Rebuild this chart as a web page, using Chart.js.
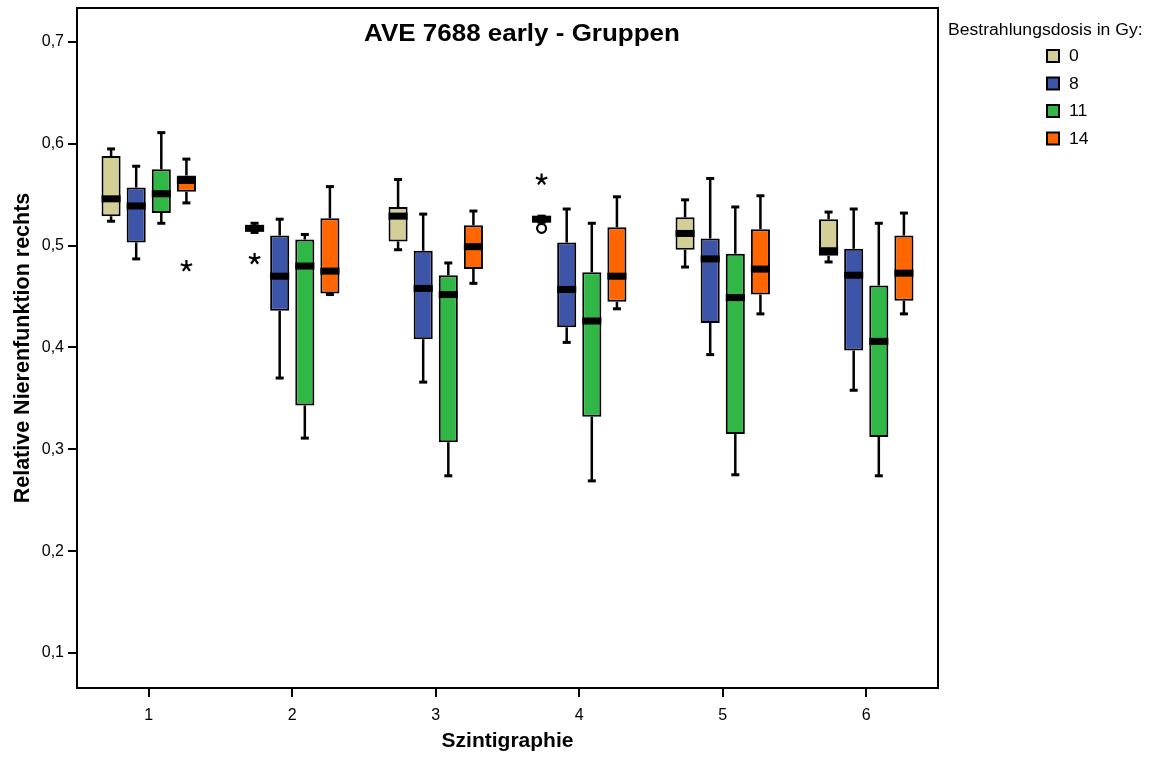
<!DOCTYPE html>
<html>
<head>
<meta charset="utf-8">
<script src="https://cdn.jsdelivr.net/npm/chart.js@4.4.1/dist/chart.umd.min.js"></script>
<style>
  html, body { margin: 0; padding: 0; background: #fff; }
  #wrap { width: 1149px; height: 758px; }
</style>
</head>
<body>
<div id="wrap"><canvas id="c" width="1149" height="758"></canvas></div>
<script>
// Scan number on the x axis, radiation dose groups as the series
const categories = ['1', '2', '3', '4', '5', '6'];
const doses = ['0', '8', '11', '14'];
const doseColors = ['#d3cf97', '#3c55a8', '#31b746', '#ff6600'];

// Box plot statistics, one row per dose group (0, 8, 11, 14 Gy), one column per scan
const whiskerLow = [
  [0.524, 0.513, 0.496, 0.523, 0.479, 0.484],
  [0.487, 0.370, 0.366, 0.405, 0.393, 0.358],
  [0.522, 0.311, 0.274, 0.269, 0.275, 0.274],
  [0.542, 0.452, 0.463, 0.438, 0.433, 0.433]
];
const quartile1 = [
  [0.529, 0.515, 0.504, 0.524, 0.496, 0.490],
  [0.503, 0.436, 0.408, 0.420, 0.424, 0.397],
  [0.532, 0.343, 0.307, 0.332, 0.315, 0.312],
  [0.553, 0.453, 0.477, 0.445, 0.452, 0.446]
];
const medians = [
  [0.546, 0.517, 0.529, 0.526, 0.512, 0.495],
  [0.539, 0.470, 0.458, 0.457, 0.487, 0.471],
  [0.551, 0.480, 0.452, 0.426, 0.449, 0.406],
  [0.564, 0.475, 0.499, 0.470, 0.477, 0.473]
];
const quartile3 = [
  [0.588, 0.520, 0.538, 0.528, 0.528, 0.526],
  [0.557, 0.510, 0.495, 0.503, 0.507, 0.497],
  [0.575, 0.506, 0.471, 0.474, 0.492, 0.461],
  [0.569, 0.527, 0.520, 0.518, 0.516, 0.510]
];
const whiskerHigh = [
  [0.595, 0.522, 0.565, 0.529, 0.545, 0.533],
  [0.578, 0.526, 0.531, 0.536, 0.566, 0.536],
  [0.611, 0.511, 0.483, 0.522, 0.538, 0.522],
  [0.585, 0.558, 0.534, 0.548, 0.549, 0.532]
];
// [scan index, dose index, value]
const extremeValues = [[0, 3, 0.480], [1, 0, 0.487], [3, 0, 0.565]];
const outlierValues = [[3, 0, 0.517]];

const yTickValues = [0.1, 0.2, 0.3, 0.4, 0.5, 0.6, 0.7];
const yTickLabels = ['0,1', '0,2', '0,3', '0,4', '0,5', '0,6', '0,7'];

const chartTitle = 'AVE 7688 early - Gruppen';
const legendTitle = 'Bestrahlungsdosis in Gy:';
const FONT = "'Liberation Sans', Arial, Helvetica, sans-serif";

Chart.defaults.font.family = FONT;
Chart.defaults.color = '#000';

// Whiskers, medians, extreme/outlier markers on top of the floating bars
const boxPlotParts = {
  id: 'boxPlotParts',
  beforeDatasetsDraw(chart) {
    const ctx = chart.ctx, y = chart.scales.y;
    ctx.save();
    ctx.strokeStyle = '#000';
    ctx.fillStyle = '#000';
    chart.data.datasets.forEach((ds, d) => {
      const meta = chart.getDatasetMeta(d);
      meta.data.forEach((el, i) => {
        const x = el.x;
        const yLo = y.getPixelForValue(whiskerLow[d][i]);
        const yHi = y.getPixelForValue(whiskerHigh[d][i]);
        const yQ1 = y.getPixelForValue(quartile1[d][i]);
        const yQ3 = y.getPixelForValue(quartile3[d][i]);
        ctx.lineWidth = 2.5;
        ctx.beginPath();
        ctx.moveTo(x, yQ3); ctx.lineTo(x, yHi);
        ctx.moveTo(x, yQ1); ctx.lineTo(x, yLo);
        ctx.stroke();
        ctx.fillRect(x - 4, yHi - 1.5, 8, 3);
        ctx.fillRect(x - 4, yLo - 1.5, 8, 3);
      });
    });
    ctx.restore();
  },
  afterDatasetsDraw(chart) {
    const ctx = chart.ctx, y = chart.scales.y;
    ctx.save();
    ctx.fillStyle = '#000';
    chart.data.datasets.forEach((ds, d) => {
      const meta = chart.getDatasetMeta(d);
      meta.data.forEach((el, i) => {
        const ym = y.getPixelForValue(medians[d][i]);
        ctx.fillRect(el.x - el.width / 2, ym - 3.5, el.width, 7);
      });
    });
    const star = (cx, cy) => {
      ctx.lineWidth = 2.2;
      ctx.beginPath();
      for (let k = 0; k < 5; k++) {
        const a = (-90 + k * 72) * Math.PI / 180;
        ctx.moveTo(cx, cy);
        ctx.lineTo(cx + 6 * Math.cos(a), cy + 6 * Math.sin(a));
      }
      ctx.stroke();
    };
    ctx.strokeStyle = '#000';
    extremeValues.forEach(([i, d, v]) => {
      const el = chart.getDatasetMeta(d).data[i];
      star(el.x, y.getPixelForValue(v));
    });
    outlierValues.forEach(([i, d, v]) => {
      const el = chart.getDatasetMeta(d).data[i];
      ctx.lineWidth = 2.2;
      ctx.beginPath();
      ctx.arc(el.x, y.getPixelForValue(v), 4.5, 0, Math.PI * 2);
      ctx.fillStyle = '#fff';
      ctx.fill();
      ctx.stroke();
    });
    ctx.restore();
  },
  afterDraw(chart) {
    const ctx = chart.ctx, a = chart.chartArea;
    ctx.save();
    // plot frame
    ctx.strokeStyle = '#000';
    ctx.lineWidth = 2;
    ctx.strokeRect(a.left, a.top, a.right - a.left, a.bottom - a.top);
    // title inside the frame
    ctx.fillStyle = '#000';
    ctx.textBaseline = 'middle';
    ctx.textAlign = 'center';
    ctx.font = 'bold 23px ' + FONT;
    ctx.save();
    ctx.translate(522, 35);
    ctx.scale(1.13, 1);
    ctx.fillText(chartTitle, 0, 0);
    ctx.restore();
    // dose legend on the right
    ctx.textAlign = 'left';
    ctx.font = '16px ' + FONT;
    ctx.save();
    ctx.translate(948, 31);
    ctx.scale(1.1, 1);
    ctx.fillText(legendTitle, 0, 0);
    ctx.restore();
    doses.forEach((label, k) => {
      const cy = 56 + k * 27.5;
      ctx.fillStyle = doseColors[k];
      ctx.fillRect(1047, cy - 6, 12, 12);
      ctx.lineWidth = 2;
      ctx.strokeStyle = '#000';
      ctx.strokeRect(1047, cy - 6, 12, 12);
      ctx.fillStyle = '#000';
      ctx.save();
      ctx.translate(1069, cy + 1);
      ctx.scale(1.1, 1);
      ctx.fillText(label, 0, 0);
      ctx.restore();
    });
    ctx.restore();
  }
};

new Chart(document.getElementById('c'), {
  type: 'bar',
  data: {
    labels: categories,
    datasets: doses.map((dose, d) => ({
      label: dose,
      data: categories.map((_, i) => [quartile1[d][i], quartile3[d][i]]),
      backgroundColor: doseColors[d],
      borderColor: '#000',
      borderWidth: 2,
      borderSkipped: false,
      categoryPercentage: 0.7,
      barPercentage: 0.76
    }))
  },
  options: {
    responsive: false,
    animation: false,
    layout: { padding: { top: 8, right: 211, left: 0, bottom: 0 } },
    plugins: {
      legend: { display: false },
      tooltip: { enabled: false },
      title: { display: false }
    },
    scales: {
      x: {
        type: 'category',
        offset: true,
        grid: { offset: false, drawOnChartArea: false, drawTicks: true, tickLength: 9, color: '#000', lineWidth: 2 },
        border: { display: true, color: '#000', width: 2 },
        ticks: { font: { size: 16 }, color: '#000', padding: 9 },
        title: { display: true, text: 'Szintigraphie', font: { size: 21, weight: 'bold' }, color: '#000', padding: { top: 0, bottom: 4 } },
        afterFit: s => { s.height = 70; s.paddingLeft = 0; s.paddingRight = 0; }
      },
      y: {
        min: 0.0656,
        max: 0.7334,
        afterBuildTicks: s => { s.ticks = yTickValues.map(v => ({ value: v })); },
        grid: { drawOnChartArea: false, drawTicks: true, tickLength: 9, color: '#000', lineWidth: 2 },
        border: { display: true, color: '#000', width: 2 },
        ticks: { font: { size: 16 }, color: '#000', padding: 4, callback: (v, i) => yTickLabels[i] },
        title: { display: true, text: 'Relative Nierenfunktion rechts', font: { size: 21.5, weight: 'bold' }, color: '#000', padding: { top: 10, bottom: 0 } },
        afterFit: s => { s.width = 77; s.paddingTop = 0; s.paddingBottom = 0; }
      }
    }
  },
  plugins: [boxPlotParts]
});
</script>
</body>
</html>
